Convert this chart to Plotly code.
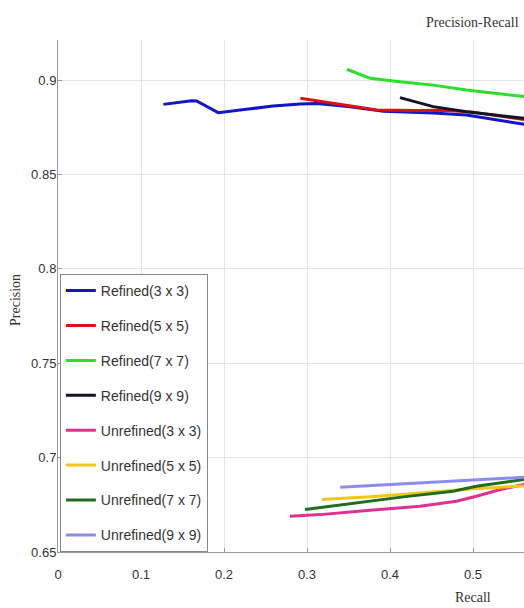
import plotly.graph_objects as go

names = ["Refined(3 x 3)", "Refined(5 x 5)", "Refined(7 x 7)", "Refined(9 x 9)",
         "Unrefined(3 x 3)", "Unrefined(5 x 5)", "Unrefined(7 x 7)", "Unrefined(9 x 9)"]
colors = ["#1414c8", "#e01010", "#2ae02a", "#141428",
          "#e03090", "#f0c814", "#1e6e1e", "#8c8cf0"]

r3_x = [0.127, 0.161, 0.167, 0.193, 0.227, 0.259, 0.292, 0.312, 0.352, 0.392, 0.452, 0.492, 0.562]
r3_y = [0.8871, 0.8890, 0.8889, 0.8827, 0.8845, 0.8862, 0.8873, 0.8876, 0.8859, 0.8835, 0.8825, 0.8815, 0.8765]
r5_x = [0.292, 0.332, 0.384, 0.432, 0.464, 0.500, 0.562]
r5_y = [0.8903, 0.8876, 0.8841, 0.8838, 0.8840, 0.8830, 0.8790]
r7_x = [0.348, 0.376, 0.412, 0.452, 0.492, 0.562]
r7_y = [0.9057, 0.9009, 0.8991, 0.8973, 0.8947, 0.8912]
r9_x = [0.412, 0.452, 0.492, 0.562]
r9_y = [0.8907, 0.8859, 0.8832, 0.8797]
u3_x = [0.2795, 0.316, 0.376, 0.436, 0.480, 0.504, 0.533, 0.562]
u3_y = [0.6690, 0.6698, 0.6721, 0.6742, 0.6769, 0.6795, 0.6831, 0.6858]
u5_x = [0.318, 0.376, 0.436, 0.496, 0.562]
u5_y = [0.6778, 0.6792, 0.6813, 0.6834, 0.6850]
u7_x = [0.2976, 0.356, 0.416, 0.476, 0.504, 0.562]
u7_y = [0.6725, 0.6760, 0.6792, 0.6822, 0.6848, 0.6885]
u9_x = [0.340, 0.396, 0.456, 0.516, 0.562]
u9_y = [0.6843, 0.6857, 0.6869, 0.6883, 0.6896]

xs = [r3_x, r5_x, r7_x, r9_x, u3_x, u5_x, u7_x, u9_x]
ys = [r3_y, r5_y, r7_y, r9_y, u3_y, u5_y, u7_y, u9_y]

x_ticks = [0, 0.1, 0.2, 0.3, 0.4, 0.5]
y_ticks = [0.65, 0.7, 0.75, 0.8, 0.85, 0.9]

fig = go.Figure()
for i in range(len(names)):
    fig.add_trace(go.Scatter(x=xs[i], y=ys[i], mode="lines", name=names[i],
                             legendgroup=names[i],
                             line=dict(color=colors[i], width=3)))

tickfont = dict(family="Liberation Sans, Arial, sans-serif", size=13, color="#333333")
fig.update_layout(
    width=524, height=608,
    margin=dict(l=58, r=0, t=40, b=56),
    paper_bgcolor="white", plot_bgcolor="white",
    showlegend=True,
    legend=dict(x=0.004, y=0.0, xanchor="left", yanchor="bottom",
                bordercolor="#888888", borderwidth=1, bgcolor="white",
                font=dict(family="Liberation Sans, Arial, sans-serif", size=14, color="#333333"),
                tracegroupgap=13.7, itemwidth=30),
    xaxis=dict(range=[0, 0.5614], tickvals=x_ticks, ticktext=["0", "0.1", "0.2", "0.3", "0.4", "0.5"],
               showgrid=True, gridcolor="#e4e4e4", zeroline=False,
               showline=True, linecolor="#999999", linewidth=1,
               ticks="inside", ticklen=4, tickcolor="#999999", tickfont=tickfont,
               ticklabelstandoff=10),
    yaxis=dict(range=[0.65, 0.9212], tickvals=y_ticks, ticktext=["0.65", "0.7", "0.75", "0.8", "0.85", "0.9"],
               showgrid=True, gridcolor="#e4e4e4", zeroline=False,
               showline=True, linecolor="#999999", linewidth=1,
               ticks="inside", ticklen=4, tickcolor="#999999", tickfont=tickfont,
               ticklabelstandoff=-2),
    annotations=[
        dict(text="Precision-Recall", xref="paper", yref="paper", x=0.89, y=1.0, yshift=18,
             xanchor="center", yanchor="middle", showarrow=False,
             font=dict(family="Liberation Serif, Times New Roman, serif", size=14, color="#333333")),
        dict(text="Recall", xref="paper", yref="paper", x=0.89, y=0.0, yshift=-45,
             xanchor="center", yanchor="middle", showarrow=False,
             font=dict(family="Liberation Serif, Times New Roman, serif", size=14, color="#333333")),
        dict(text="Precision", xref="paper", yref="paper", x=0.0, xshift=-43, y=0.5, yshift=-4,
             textangle=-90, xanchor="center", yanchor="middle", showarrow=False,
             font=dict(family="Liberation Serif, Times New Roman, serif", size=14, color="#333333")),
    ],
)
fig.write_html("out.html")
